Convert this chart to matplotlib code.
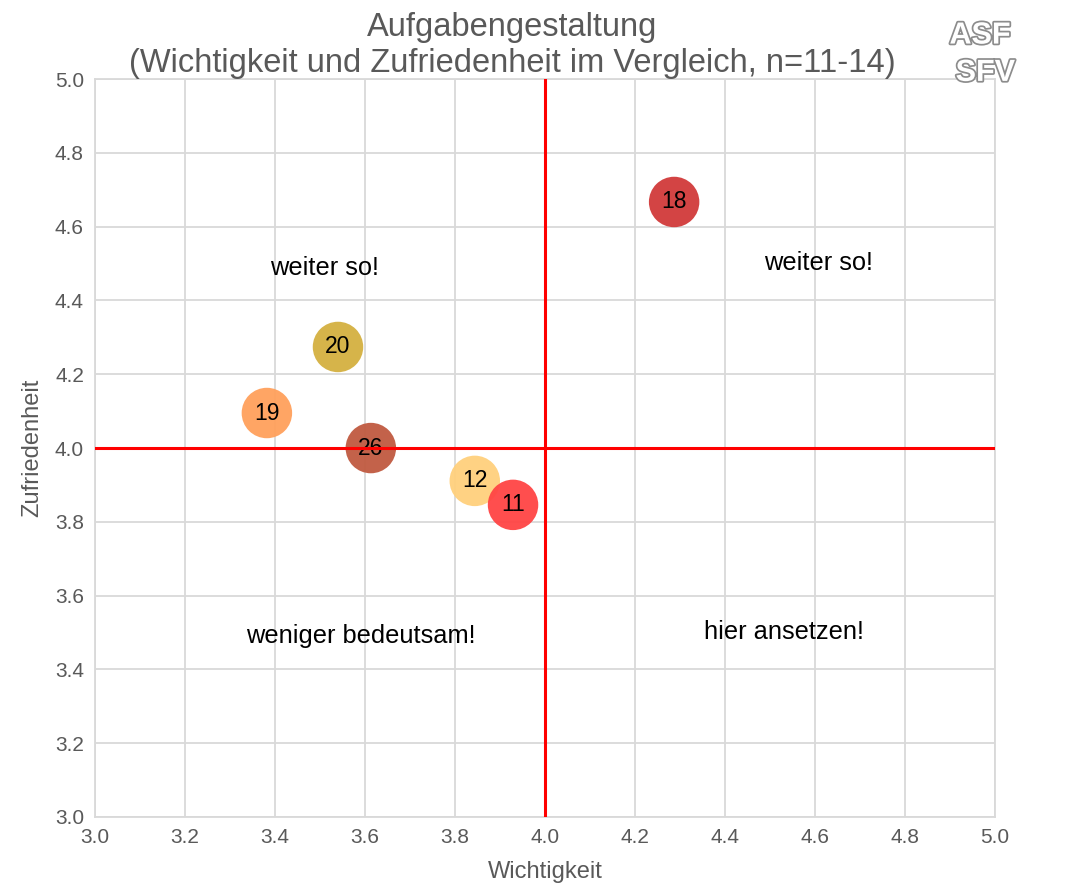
import matplotlib
matplotlib.use('Agg')
import matplotlib.pyplot as plt
import matplotlib.patheffects as pe

plt.rcParams['font.family'] = ['Liberation Sans', 'DejaVu Sans']

# Wichtigkeit / Zufriedenheit pro Frage
labels = ['18', '20', '19', '26', '12', '11']
wichtigkeit = [4.287, 3.540, 3.382, 3.613, 3.844, 3.929]
zufriedenheit = [4.667, 4.274, 4.095, 4.000, 3.911, 3.846]
colors = ['#d13a3a', '#d4b040', '#ffa05c', '#c05a40', '#ffd07c', '#ff4444']

quadrant_texts = ['weiter so!', 'weiter so!', 'weniger bedeutsam!', 'hier ansetzen!']
quadrant_x = [3.509, 4.607, 3.591, 4.531]
quadrant_y = [4.488, 4.501, 3.491, 3.501]

grey = '#595959'

fig = plt.figure(figsize=(10.71, 8.89), dpi=100)
ax = fig.add_axes([0.0887, 0.081, 0.8403, 0.830])

ax.set_xlim(3.0, 5.0)
ax.set_ylim(3.0, 5.0)
ax.set_xticks([3.0 + 0.2 * i for i in range(11)])
ax.set_yticks([3.0 + 0.2 * i for i in range(11)])
ax.xaxis.set_major_formatter(matplotlib.ticker.FormatStrFormatter('%.1f'))
ax.yaxis.set_major_formatter(matplotlib.ticker.FormatStrFormatter('%.1f'))
ax.grid(True, color='#d9d9d9', linewidth=1.3)
ax.set_axisbelow(True)
for s in ax.spines.values():
    s.set_color('#d9d9d9')
    s.set_linewidth(1.3)
ax.tick_params(length=0, labelsize=15, labelcolor=grey, pad=8)

ax.scatter(wichtigkeit, zufriedenheit, s=1320, c=colors, alpha=0.95,
           edgecolors='none', zorder=3)
for lab, x, y in zip(labels, wichtigkeit, zufriedenheit):
    ax.text(x, y, lab, ha='center', va='center', fontsize=16.5, zorder=4)

ax.axvline(4.0, color='#ff0000', linewidth=2.2, zorder=5)
ax.axhline(4.0, color='#ff0000', linewidth=2.2, zorder=5)

for t, x, y in zip(quadrant_texts, quadrant_x, quadrant_y):
    ax.text(x, y, t, ha='center', va='center', fontsize=18.3, zorder=4)

ax.set_xlabel('Wichtigkeit', fontsize=17, color=grey, labelpad=10)
ax.set_ylabel('Zufriedenheit', fontsize=17, color=grey, labelpad=8)
ax.set_title('Aufgabengestaltung\n(Wichtigkeit und Zufriedenheit im Vergleich, n=11-14)',
             fontsize=23.5, color=grey, pad=3, linespacing=1.2, x=0.464)

# Logo (grob angedeutet)
outline = [pe.withStroke(linewidth=2.5, foreground='#8c8c8c')]
fig.text(0.915, 0.96, 'ASF', fontsize=22, color='white', ha='center', va='center',
         fontweight='bold', path_effects=outline)
fig.text(0.92, 0.918, 'SFV', fontsize=22, color='white', ha='center', va='center',
         fontweight='bold', path_effects=outline)

fig.savefig('out.png', dpi=100)
